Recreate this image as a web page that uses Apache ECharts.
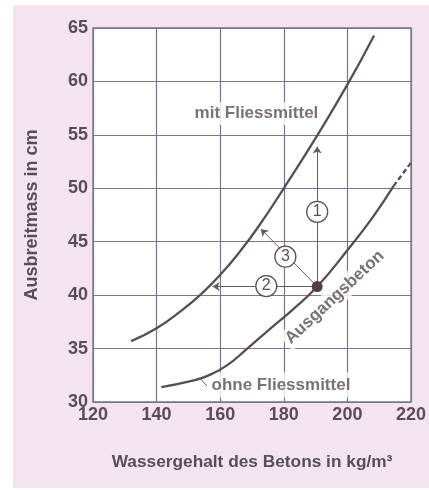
<!DOCTYPE html>
<html>
<head>
<meta charset="utf-8">
<script src="https://cdn.jsdelivr.net/npm/echarts@6/dist/echarts.min.js"></script>
<style>
  html, body { margin: 0; padding: 0; background: #ffffff; overflow: hidden; }
  #wrap { position: relative; width: 429px; height: 490px; background: #ffffff; }
  #pink { position: absolute; left: 13px; top: 5px; width: 416px; height: 483px; background: #f4e4f0; }
  #chart { position: absolute; left: 0; top: 0; width: 429px; height: 490px; }
</style>
</head>
<body>
<div id="wrap"><div id="pink"></div><div id="chart"></div></div>
<script>
// ---- data ----
const xTicks = [120, 140, 160, 180, 200, 220];
const yTicks = [30, 35, 40, 45, 50, 55, 60, 65];

const mitX = [132, 140, 148, 154, 160, 166, 172, 180, 190, 200, 208.4];
const mitY = [35.7, 36.9, 38.6, 40.1, 41.9, 44.0, 46.4, 50.0, 54.7, 59.7, 64.3];

const ohneX = [141.5, 150, 156, 162, 168.5, 175.5, 183, 190.5, 200, 208, 214.5];
const ohneY = [31.4, 31.9, 32.45, 33.4, 35.0, 36.8, 38.7, 40.8, 44.2, 47.3, 50.2];

const ohneDashX = [214.5, 220];
const ohneDashY = [50.2, 52.4];

const startPoint = [190.5, 40.8];
const arrowEnds = [[190.5, 53.9], [157.6, 40.8], [172.8, 46.2]];
const circleNames = ['1', '2', '3'];
const circleX = [190.5, 174.5, 180.5];
const circleY = [47.8, 40.85, 43.6];

const labelNames = ['mit Fliessmittel', 'ohne Fliessmittel', 'Ausgangsbeton'];
const labelX = [171.4, 179.1, 196.0];
const labelY = [57.0, 31.6, 39.8];
const leaderLine = [[153.6, 32.25], [155.8, 31.5]];

const xTitle = 'Wassergehalt des Betons in kg/m³';
const yTitle = 'Ausbreitmass in cm';

// ---- styling ----
const FONT = '"Liberation Sans", Arial, sans-serif';
const TXT = '#584e55';
const CURVE = '#5a4c53';
const GRIDC = '#7b7390';

const zip = (a, b) => a.map((v, i) => [v, b[i]]);

const chart = echarts.init(document.getElementById('chart'), null, { renderer: 'canvas' });

const labelStyleBase = {
  show: true, position: 'inside', fontFamily: FONT, fontWeight: 'bold',
  fontSize: 17, color: TXT, backgroundColor: '#ffffff', padding: [3, 3]
};

chart.setOption({
  backgroundColor: 'transparent',
  animation: false,
  grid: {
    left: 93, right: 17, top: 28, bottom: 88,
    show: true, backgroundColor: '#ffffff', borderColor: GRIDC, borderWidth: 1.3
  },
  xAxis: {
    type: 'value', min: 120, max: 220, interval: 20,
    name: xTitle, nameLocation: 'middle', nameGap: 52,
    nameTextStyle: { fontFamily: FONT, fontWeight: 'bold', fontSize: 17.3, color: TXT },
    axisLine: { show: false }, axisTick: { show: false },
    axisLabel: { fontFamily: FONT, fontWeight: 'bold', fontSize: 18, color: TXT, margin: 4,
      formatter: v => xTicks.includes(v) ? String(v) : '' },
    splitLine: { show: true, lineStyle: { color: GRIDC, width: 1.2 } }
  },
  yAxis: {
    type: 'value', min: 30, max: 65, interval: 5,
    name: yTitle, nameLocation: 'middle', nameGap: 52, nameRotate: 90,
    nameTextStyle: { fontFamily: FONT, fontWeight: 'bold', fontSize: 18, color: TXT },
    axisLine: { show: false }, axisTick: { show: false },
    axisLabel: { fontFamily: FONT, fontWeight: 'bold', fontSize: 18, color: TXT, margin: 5,
      formatter: v => yTicks.includes(v) ? String(v) : '' },
    splitLine: { show: true, lineStyle: { color: GRIDC, width: 1.2 } }
  },
  series: [
    // text labels with white masks
    {
      type: 'scatter', z: 1, symbolSize: 0, silent: true,
      data: [
        { value: [labelX[0], labelY[0]], name: labelNames[0], label: Object.assign({}, labelStyleBase, { padding: [3, 4] }) },
        { value: [labelX[1], labelY[1]], name: labelNames[1], label: Object.assign({}, labelStyleBase, { padding: [4, 2] }) },
        { value: [labelX[2], labelY[2]], name: labelNames[2], label: Object.assign({}, labelStyleBase, { rotate: 43, padding: [2, 3] }) }
      ],
      label: { formatter: p => p.name }
    },
    {
      type: 'line', z: 3, data: zip(mitX, mitY), smooth: 0.5, showSymbol: false,
      lineStyle: { color: CURVE, width: 2.3 }
    },
    {
      type: 'line', z: 3, data: zip(ohneX, ohneY), smooth: 0.5, showSymbol: false,
      lineStyle: { color: CURVE, width: 2.3 }
    },
    {
      type: 'line', z: 3, data: zip(ohneDashX, ohneDashY), showSymbol: false,
      lineStyle: { color: CURVE, width: 2.3, type: [5, 3] }
    },
    // arrows
    {
      type: 'lines', coordinateSystem: 'cartesian2d', z: 4, silent: true,
      symbol: ['none', 'arrow'], symbolSize: 7,
      lineStyle: { color: '#655c62', width: 1, opacity: 1 },
      data: arrowEnds.map(e => ({ coords: [startPoint, e] }))
    },
    {
      type: 'lines', coordinateSystem: 'cartesian2d', z: 4, silent: true,
      symbol: ['none', 'none'],
      lineStyle: { color: '#655c62', width: 1, opacity: 1 },
      data: [{ coords: leaderLine }]
    },
    // numbered circles
    {
      type: 'scatter', z: 5, symbol: 'circle', symbolSize: 21, silent: true,
      itemStyle: { color: '#ffffff', borderColor: '#5a5058', borderWidth: 1.3, opacity: 1 },
      label: { show: true, position: 'inside', formatter: p => p.name,
        fontFamily: FONT, fontSize: 16, color: TXT },
      data: circleNames.map((n, i) => ({ name: n, value: [circleX[i], circleY[i]] }))
    },
    // starting point
    {
      type: 'scatter', z: 6, symbol: 'circle', symbolSize: 11, silent: true,
      itemStyle: { color: '#4e4247', opacity: 1 },
      data: [startPoint]
    }
  ]
});
</script>
</body>
</html>
